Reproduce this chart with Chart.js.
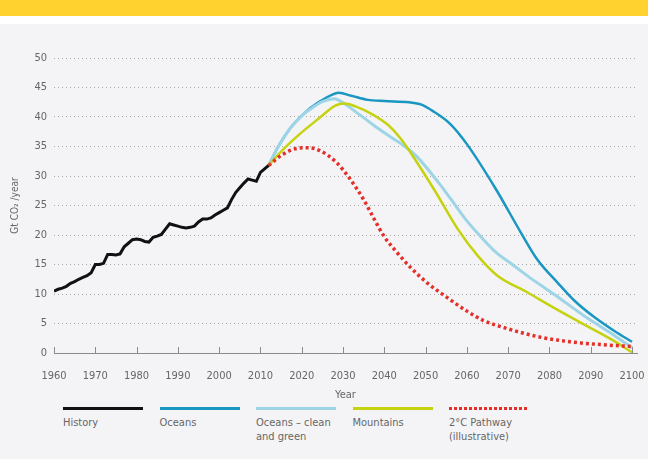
<!DOCTYPE html>
<html>
<head>
<meta charset="utf-8">
<script src="https://cdn.jsdelivr.net/npm/chart.js@4/dist/chart.umd.min.js"></script>
<style>
  body { margin: 0; width: 648px; height: 459px; background: #f4f4f6; overflow: hidden; position: relative; font-family: "Liberation Sans Narrow", "DejaVu Sans Condensed", sans-serif; }
  #band { position: absolute; left: 0; top: 0; width: 648px; height: 16px; background: #ffd230; }
  #gap { position: absolute; left: 0; top: 16px; width: 648px; height: 8px; background: #fff; }
  #wrap { position: absolute; left: 0; top: 24px; width: 648px; height: 381px; }
  #legend { position: absolute; left: 63px; top: 407px; }
  .item { position: absolute; top: 0; width: 80px; font-size: 11px; color: #666; line-height: 14px; }
  .swatch { height: 3px; margin-bottom: 6px; }
</style>
</head>
<body>
<div id="band"></div>
<div id="gap"></div>
<div id="wrap"><canvas id="chart"></canvas></div>
<div id="legend"></div>
<script>
// history
let histYears = [1960,1961,1962,1963,1964,1965,1966,1967,1968,1969,1970,1971,1972,1973,1974,1975,1976,1977,1978,1979,
  1980,1981,1982,1983,1984,1985,1986,1987,1988,1989,1990,1991,1992,1993,1994,1995,1996,1997,1998,1999,
  2000,2001,2002,2003,2004,2005,2006,2007,2008,2009,2010,2011,2012];
let histValues = [10.5,10.8,11.0,11.3,11.8,12.1,12.5,12.8,13.1,13.6,15.0,15.0,15.2,16.7,16.7,16.6,16.8,18.0,18.6,19.2,
  19.3,19.2,18.9,18.8,19.6,19.8,20.1,21.0,21.9,21.7,21.5,21.3,21.2,21.3,21.5,22.2,22.7,22.7,22.9,23.4,
  23.8,24.2,24.6,26.0,27.2,28.0,28.8,29.5,29.3,29.1,30.6,31.2,31.8];

// scenarios
let oceansYears = [2012,2014,2017,2020,2022,2026,2029,2032,2036,2040,2046,2049,2052,2056,2060,2067,2073,2077,2082,2086,2091,2096,2100];
let oceansValues = [31.8,34.6,37.9,40.2,41.5,43.3,44.1,43.6,42.9,42.7,42.5,42.1,40.9,38.8,35.4,27.8,20.5,15.9,11.9,8.9,6.0,3.6,1.9];

let cleanYears = [2012,2014,2017,2020,2022,2025,2028,2030,2034,2038,2042,2045,2048,2053,2056,2060,2063,2067,2071,2075,2081,2089,2095,2100];
let cleanValues = [31.8,34.6,37.9,40.2,41.3,42.6,43.1,42.4,40.4,38.3,36.4,35.0,33.2,29.0,26.2,22.4,20.0,17.1,15.0,12.9,10.0,6.0,3.3,0.9];

let mountainsYears = [2012,2015.5,2019.5,2024.4,2028,2030.4,2033,2037,2041,2044,2048,2052.5,2057.8,2062.6,2067.4,2074.6,2081,2089,2095,2100];
let mountainsValues = [31.8,34.5,37.1,39.9,41.9,42.3,41.8,40.5,38.6,36.3,32.2,27.2,21.0,16.5,13.1,10.3,7.7,4.6,2.3,0.1];

let pathwayYears = [2012,2015.5,2019,2021.5,2024.4,2028.4,2031.7,2034.9,2037.7,2040,2043,2046.2,2050.2,2055,2060,2064,2069,2077,2085,2093,2100];
let pathwayValues = [31.8,33.7,34.7,34.8,34.3,32.3,29.5,26.1,22.5,19.7,17.1,14.6,12.0,9.5,7.1,5.5,4.3,2.8,1.9,1.4,1.1];

let xTicks = [1960,1970,1980,1990,2000,2010,2020,2030,2040,2050,2060,2070,2080,2090,2100];
let yTicks = [0,5,10,15,20,25,30,35,40,45,50];

function pts(xs, ys) {
    return xs.map((x, i) => ({ x: x, y: ys[i] }));
}

let series = [
    { label: 'History', data: pts(histYears, histValues), color: '#111111', width: 3, dash: [] },
    { label: 'Oceans', data: pts(oceansYears, oceansValues), color: '#1996c2', width: 2.5, dash: [] },
    { label: 'Oceans \u2013 clean and green', data: pts(cleanYears, cleanValues), color: '#9dd5e6', width: 3, dash: [] },
    { label: 'Mountains', data: pts(mountainsYears, mountainsValues), color: '#c5d20f', width: 2.5, dash: [] },
    { label: '2\u00b0C Pathway (illustrative)', data: pts(pathwayYears, pathwayValues), color: '#e4302a', width: 3.5, dash: [3, 3] }
];
let legendLines = [['History'], ['Oceans'], ['Oceans \u2013 clean', 'and green'], ['Mountains'], ['2\u00b0C Pathway', '(illustrative)']];

// draw order: pathway on top, history next
let drawOrder = [1, 4, 3, 2, 0];

let upTicks = {
    id: 'upTicks',
    afterDraw(chart) {
        let ctx = chart.ctx;
        let x = chart.scales.x;
        let bottom = chart.chartArea.bottom;
        ctx.save();
        ctx.strokeStyle = '#8a8a8a';
        ctx.lineWidth = 1;
        xTicks.forEach(v => {
            let px = Math.round(x.getPixelForValue(v)) + 0.5;
            ctx.beginPath();
            ctx.moveTo(px, bottom);
            ctx.lineTo(px, bottom - 6);
            ctx.stroke();
        });
        ctx.restore();
    }
};

let font = "'Liberation Sans Narrow', 'DejaVu Sans Condensed', sans-serif";

let ctx = document.getElementById('chart');
let myChart = new Chart(ctx, {
    type: 'line',
    data: {
        datasets: series.map((s, i) => ({
            label: s.label,
            data: s.data,
            borderColor: s.color,
            backgroundColor: s.color,
            borderWidth: s.width,
            borderDash: s.dash,
            borderCapStyle: 'butt',
            pointRadius: 0,
            cubicInterpolationMode: i === 0 ? 'default' : 'monotone',
            tension: 0,
            order: drawOrder[i]
        }))
    },
    options: {
        responsive: true,
        maintainAspectRatio: false,
        animation: false,
        layout: { padding: { top: 34, left: 0, right: 11, bottom: 0 } },
        plugins: { legend: { display: false }, tooltip: { enabled: false } },
        scales: {
            x: {
                type: 'linear',
                min: 1960,
                max: 2101.2,
                afterBuildTicks: scale => { scale.ticks = xTicks.map(v => ({ value: v })); },
                afterFit: scale => { scale.height = 52; scale.paddingLeft = 0; scale.paddingRight = 0; },
                grid: { display: true, drawOnChartArea: false, drawTicks: false },
                border: { display: true, color: '#8a8a8a', width: 1 },
                ticks: { color: '#666', font: { family: font, size: 11 }, padding: 17, maxRotation: 0, autoSkip: false,
                         callback: v => String(v) },
                title: { display: true, text: 'Year', color: '#666', font: { family: font, size: 11 }, padding: { top: 0, bottom: 3 } }
            },
            y: {
                min: 0,
                max: 50,
                afterBuildTicks: scale => { scale.ticks = yTicks.map(v => ({ value: v })); },
                afterFit: scale => { scale.width = 54; scale.paddingTop = 0; scale.paddingBottom = 0; },
                grid: {
                    color: c => c.tick && c.tick.value === 0 ? 'rgba(0,0,0,0)' : '#a8a8a8',
                    lineWidth: 1,
                    drawTicks: false
                },
                border: { display: false, dash: [1, 3] },
                ticks: { color: '#666', font: { family: font, size: 11 }, padding: 7 },
                title: { display: true, text: 'Gt CO\u2082 /year', color: '#666', font: { family: font, size: 10 }, padding: { top: 9, bottom: 0 } }
            }
        }
    },
    plugins: [upTicks]
});

// legend
let legend = document.getElementById('legend');
series.forEach((s, i) => {
    let item = document.createElement('div');
    item.className = 'item';
    item.style.left = (i * 96.5) + 'px';
    let sw = document.createElement('div');
    sw.className = 'swatch';
    if (s.dash.length) {
        sw.style.background = 'repeating-linear-gradient(90deg, ' + s.color + ' 0 3px, transparent 3px 5px)';
    } else {
        sw.style.background = s.color;
    }
    item.appendChild(sw);
    legendLines[i].forEach(t => {
        let d = document.createElement('div');
        d.textContent = t;
        item.appendChild(d);
    });
    legend.appendChild(item);
});
</script>
</body>
</html>
